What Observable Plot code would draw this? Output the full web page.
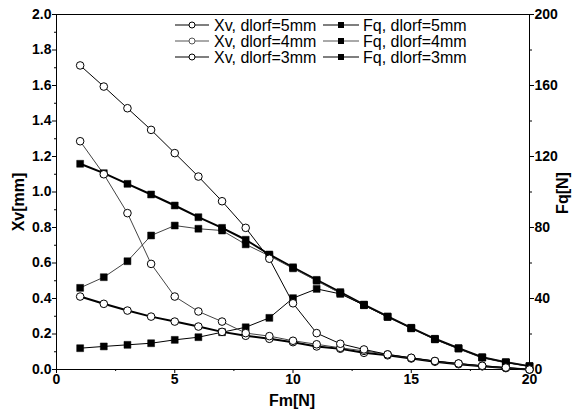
<!DOCTYPE html>
<html>
<head>
<meta charset="utf-8">
<script src="https://cdn.jsdelivr.net/npm/d3@7"></script>
<script src="https://cdn.jsdelivr.net/npm/@observablehq/plot@0.6"></script>
<style>
  html, body { margin: 0; padding: 0; background: #fff; }
  #chart { position: relative; width: 587px; height: 414px; }
  #chart svg text { font-weight: bold; fill: #000; }
</style>
</head>
<body>
<div id="chart"></div>
<script>
// Data
const fm = [1,2,3,4,5,6,7,8,9,10,11,12,13,14,15,16,17,18,19,20];
const xv5 = [0.411,0.370,0.332,0.298,0.270,0.242,0.212,0.190,0.173,0.154,0.130,0.117,0.094,0.080,0.062,0.044,0.030,0.018,0.008,0.000];
const xv4 = [1.286,1.100,0.881,0.595,0.411,0.327,0.270,0.205,0.188,0.162,0.142,0.122,0.105,0.085,0.065,0.047,0.033,0.020,0.010,0.000];
const xv3 = [1.713,1.594,1.472,1.350,1.219,1.087,0.948,0.798,0.624,0.373,0.205,0.145,0.113,0.085,0.066,0.048,0.034,0.021,0.011,0.000];
const fq5 = [115.9,110.6,104.6,98.6,92.4,85.8,79.8,73.1,64.8,57.6,50.5,43.6,36.6,29.9,23.5,17.3,12.0,6.9,4.1,1.9];
const fq4 = [46.0,52.0,61.0,75.5,81.1,79.3,78.3,70.5,64.0,57.0,50.0,43.0,36.2,29.6,23.2,17.0,11.8,6.7,4.0,1.8];
const fq3 = [12.0,13.0,13.9,14.8,16.7,18.2,21.0,23.8,29.1,40.2,45.4,42.6,36.3,29.7,23.3,17.1,11.9,6.8,4.0,1.8];
const xTicks = [0,5,10,15,20];
const xvTicks = [0,0.2,0.4,0.6,0.8,1.0,1.2,1.4,1.6,1.8,2.0];
const fqTicks = [0,40,80,120,160,200];
const legendLabels = [
  ["Xv, dlorf=5mm","Fq, dlorf=5mm"],
  ["Xv, dlorf=4mm","Fq, dlorf=4mm"],
  ["Xv, dlorf=3mm","Fq, dlorf=3mm"]
];

const FQ_MAX = 200, XV_MAX = 2;
const toRows = arr => fm.map((f,i) => ({fm: f, v: arr[i]}));
const styles = [
  {stroke: "#000", sw: 2},
  {stroke: "#444", sw: 1},
  {stroke: "#000", sw: 1}
];
const xvSeries = [xv5, xv4, xv3];
const fqSeries = [fq5, fq4, fq3];

const font = "Liberation Sans, Arial, sans-serif";
const marks = [];
fqSeries.forEach((s,i) => marks.push(Plot.line(toRows(s), {x: "fm", y: d => d.v * XV_MAX / FQ_MAX, stroke: styles[i].stroke, strokeWidth: styles[i].sw})));
xvSeries.forEach((s,i) => marks.push(Plot.line(toRows(s), {x: "fm", y: "v", stroke: styles[i].stroke, strokeWidth: styles[i].sw})));
fqSeries.forEach((s,i) => marks.push(Plot.dot(toRows(s), {x: "fm", y: d => d.v * XV_MAX / FQ_MAX, symbol: "square", r: 3.9, fill: "#000", stroke: "#000", strokeWidth: 0.5})));
xvSeries.forEach((s,i) => marks.push(Plot.dot(toRows(s), {x: "fm", y: "v", symbol: "circle", r: 3.8, fill: "#fff", stroke: "#000", strokeWidth: 1})));

const xMinor = d3.range(0, 20.01, 2.5).filter(v => !xTicks.includes(v));
const yMinor = d3.range(0.1, 2.0, 0.2).map(v => +v.toFixed(2));

const plot = Plot.plot({
  width: 587,
  height: 414,
  marginLeft: 56,
  marginRight: 58,
  marginTop: 14,
  marginBottom: 45,
  style: {fontFamily: font, fontSize: "14px", color: "#000", background: "#fff"},
  x: {domain: [0, 20]},
  y: {domain: [0, 2]},
  marks: [
    Plot.frame({stroke: "#000", strokeWidth: 1}),
    Plot.axisX({ticks: xTicks, tickSize: 4, tickPadding: 1, tickFormat: d => d, label: null, fontSize: 14}),
    Plot.axisX({ticks: xMinor, tickSize: 2, text: null, label: null}),
    Plot.axisY({ticks: xvTicks, tickSize: 4, tickPadding: 1, tickFormat: d => d.toFixed(1), label: null, fontSize: 14}),
    Plot.axisY({ticks: yMinor, tickSize: 2, text: null, label: null}),
    Plot.axisY({anchor: "right", ticks: fqTicks.map(v => v * XV_MAX / FQ_MAX), tickSize: 4, tickPadding: 1, tickFormat: d => Math.round(d * FQ_MAX / XV_MAX), label: null, fontSize: 14}),
    Plot.axisY({anchor: "right", ticks: fqTicks.slice(0,-1).map(v => (v + 20) * XV_MAX / FQ_MAX), tickSize: 2, text: null, label: null}),
    ...marks
  ]
});

const svg = d3.select(plot);
// Axis titles
svg.append("text").attr("x", 292).attr("y", 406).attr("text-anchor", "middle")
  .attr("font-family", font).attr("font-size", 16).text("Fm[N]");
svg.append("text").attr("transform", "translate(24,202) rotate(-90)").attr("text-anchor", "middle")
  .attr("font-family", font).attr("font-size", 16).text("Xv[mm]");
svg.append("text").attr("transform", "translate(568,193) rotate(-90)").attr("text-anchor", "middle")
  .attr("font-family", font).attr("font-size", 16).text("Fq[N]");

// Legend
const lg = svg.append("g").attr("font-family", font).attr("font-size", 16).attr("text-anchor", "start");
const rowY = [25, 41, 57];
legendLabels.forEach((pair, i) => {
  const y = rowY[i];
  const col = i === 1 ? "#555" : "#000";
  lg.append("line").attr("x1", 175).attr("x2", 209).attr("y1", y).attr("y2", y).attr("stroke", col).attr("stroke-width", 1.2);
  lg.append("circle").attr("cx", 192).attr("cy", y).attr("r", 3).attr("fill", "#fff").attr("stroke", col);
  lg.append("text").attr("x", 214).attr("y", y).attr("dy", "0.35em").attr("text-anchor", "start")
    .style("font-weight", "normal").text(pair[0]);
  lg.append("line").attr("x1", 323).attr("x2", 359).attr("y1", y).attr("y2", y).attr("stroke", col).attr("stroke-width", 1.2);
  lg.append("rect").attr("x", 338).attr("y", y - 3).attr("width", 6).attr("height", 6).attr("fill", "#000");
  lg.append("text").attr("x", 363).attr("y", y).attr("dy", "0.35em").attr("text-anchor", "start")
    .style("font-weight", "normal").text(pair[1]);
});

document.getElementById("chart").appendChild(plot);
</script>
</body>
</html>
